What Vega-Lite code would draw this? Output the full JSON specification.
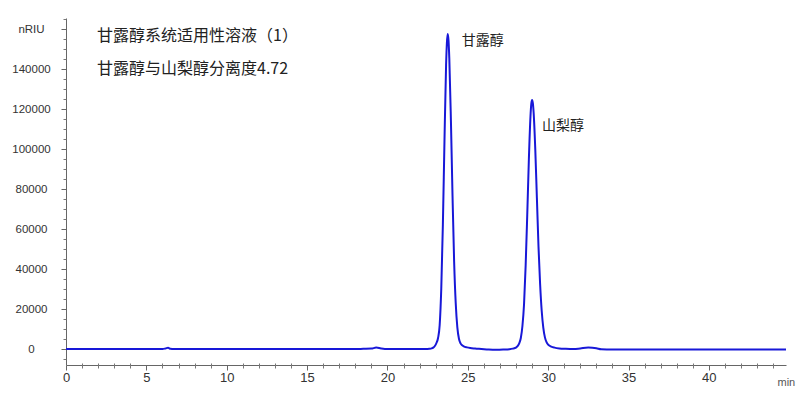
{
  "$schema": "https://vega.github.io/schema/vega-lite/v6.json",
  "width": 720,
  "height": 347,
  "autosize": {"type": "none"},
  "padding": {"left": 66, "top": 18, "right": 14, "bottom": 38},
  "background": "white",
  "config": {"view": {"stroke": null}, "font": "Liberation Sans"},
  "title": {
    "text": ["甘露醇系统适用性溶液（1）", "甘露醇与山梨醇分离度4.72"],
    "anchor": "start",
    "frame": "group",
    "orient": "top",
    "baseline": "top",
    "offset": 0,
    "dx": 31,
    "dy": 59,
    "lineHeight": 33,
    "font": "Noto Sans CJK SC",
    "fontSize": 16,
    "fontWeight": "normal",
    "color": "#222222"
  },
  "datasets": {
    "trace": [
      {"time": 0, "signal": 0}, {"time": 2, "signal": 0}, {"time": 4, "signal": 0},
      {"time": 6.0, "signal": 0}, {"time": 6.2, "signal": 300}, {"time": 6.35, "signal": 600},
      {"time": 6.5, "signal": 100}, {"time": 6.7, "signal": 0}, {"time": 10, "signal": 0},
      {"time": 15, "signal": 0}, {"time": 18.0, "signal": 0}, {"time": 18.5, "signal": 100},
      {"time": 19.0, "signal": 200}, {"time": 19.3, "signal": 700}, {"time": 19.6, "signal": 300},
      {"time": 20.0, "signal": 0}, {"time": 21.0, "signal": 0}, {"time": 22.0, "signal": 0},
      {"time": 22.4, "signal": 0}, {"time": 22.6, "signal": 100}, {"time": 22.75, "signal": 300},
      {"time": 22.85, "signal": 700}, {"time": 22.95, "signal": 1500}, {"time": 23.05, "signal": 3000},
      {"time": 23.15, "signal": 5500}, {"time": 23.25, "signal": 11900}, {"time": 23.35, "signal": 30100},
      {"time": 23.45, "signal": 62200}, {"time": 23.55, "signal": 104200}, {"time": 23.65, "signal": 142000},
      {"time": 23.7, "signal": 153000}, {"time": 23.75, "signal": 157500}, {"time": 23.8, "signal": 154400},
      {"time": 23.85, "signal": 145400}, {"time": 23.95, "signal": 114400}, {"time": 24.05, "signal": 76700},
      {"time": 24.15, "signal": 43800}, {"time": 24.25, "signal": 22800}, {"time": 24.35, "signal": 10800},
      {"time": 24.45, "signal": 5100}, {"time": 24.55, "signal": 2800}, {"time": 24.65, "signal": 1850},
      {"time": 24.75, "signal": 1300}, {"time": 24.95, "signal": 800}, {"time": 25.15, "signal": 500},
      {"time": 25.45, "signal": 250}, {"time": 25.85, "signal": 0}, {"time": 26.3, "signal": -300},
      {"time": 26.8, "signal": -400}, {"time": 27.2, "signal": -300}, {"time": 27.6, "signal": -100},
      {"time": 27.8, "signal": 200}, {"time": 28.0, "signal": 700}, {"time": 28.1, "signal": 1400},
      {"time": 28.2, "signal": 2800}, {"time": 28.3, "signal": 5500}, {"time": 28.4, "signal": 11500},
      {"time": 28.5, "signal": 22400}, {"time": 28.6, "signal": 41600}, {"time": 28.7, "signal": 67100},
      {"time": 28.8, "signal": 94600}, {"time": 28.9, "signal": 116200}, {"time": 28.95, "signal": 122400},
      {"time": 29.0, "signal": 124500}, {"time": 29.05, "signal": 122800}, {"time": 29.1, "signal": 117800},
      {"time": 29.2, "signal": 99700}, {"time": 29.3, "signal": 75500}, {"time": 29.4, "signal": 51200},
      {"time": 29.5, "signal": 32500}, {"time": 29.6, "signal": 19000}, {"time": 29.7, "signal": 10600},
      {"time": 29.8, "signal": 5800}, {"time": 29.9, "signal": 3400}, {"time": 30.0, "signal": 2200},
      {"time": 30.2, "signal": 1200}, {"time": 30.4, "signal": 700}, {"time": 30.7, "signal": 300},
      {"time": 31.1, "signal": 100}, {"time": 31.6, "signal": 0}, {"time": 32.0, "signal": 300},
      {"time": 32.5, "signal": 700}, {"time": 33.0, "signal": 400}, {"time": 33.3, "signal": -100},
      {"time": 34.0, "signal": -200}, {"time": 38.0, "signal": -200}, {"time": 44.8, "signal": -200}
    ],
    "peaks": [
      {"name": "甘露醇", "time": 23.75, "height": 157500},
      {"name": "山梨醇", "time": 29.0, "height": 124500}
    ]
  },
  "layer": [
    {
      "data": {"name": "trace"},
      "mark": {"type": "line", "color": "#1818d8", "strokeWidth": 2, "interpolate": "monotone", "clip": true},
      "encoding": {
        "x": {
          "field": "time", "type": "quantitative",
          "scale": {"domain": [0, 44.8], "nice": false, "zero": false},
          "axis": {
            "orient": "bottom",
            "values": [0, 5, 10, 15, 20, 25, 30, 35, 40],
            "title": "min",
            "titleAnchor": "start",
            "titleAlign": "left",
            "titleBaseline": "middle",
            "titleX": 711,
            "titleY": 17,
            "titleFont": "Liberation Sans",
            "titleFontSize": 11,
            "titleFontWeight": "normal",
            "titleColor": "#555555",
            "grid": false,
            "domainColor": "#666666",
            "domainWidth": 1,
            "tickColor": "#666666",
            "tickSize": 5,
            "labelPadding": 1,
            "labelFontSize": 13,
            "labelColor": "#333333",
            "labelBaseline": "top",
            "labelFlush": false
          }
        },
        "y": {
          "field": "signal", "type": "quantitative",
          "scale": {"domain": [-8000, 165500], "nice": false, "zero": false},
          "axis": {
            "orient": "left",
            "values": [0, 20000, 40000, 60000, 80000, 100000, 120000, 140000, 160000],
            "format": "d",
            "labelExpr": "datum.value == 160000 ? 'nRIU' : datum.label",
            "title": null,
            "grid": false,
            "domainColor": "#666666",
            "tickColor": "#666666",
            "tickSize": 5,
            "labelPadding": 30,
            "labelAlign": "center",
            "labelFontSize": 11.5,
            "labelColor": "#333333",
            "labelFlush": false
          }
        }
      }
    },
    {
      "data": {"name": "peaks"},
      "transform": [{"filter": "datum.name == '甘露醇'"}],
      "mark": {"type": "text", "align": "left", "baseline": "middle", "dx": 14, "dy": 7, "font": "Noto Sans CJK SC", "fontSize": 14, "color": "#222222"},
      "encoding": {
        "x": {"field": "time", "type": "quantitative",
          "axis": {"orient": "bottom", "values": [1,2,3,4,6,7,8,9,11,12,13,14,16,17,18,19,21,22,23,24,26,27,28,29,31,32,33,34,36,37,38,39,41,42,43,44],
            "labels": false, "title": null, "domain": false, "grid": false, "tickSize": 5, "offset": -2, "tickColor": "#777777"}},
        "y": {"field": "height", "type": "quantitative",
          "axis": {"orient": "left", "values": [-5000,5000,10000,15000,25000,30000,35000,45000,50000,55000,65000,70000,75000,85000,90000,95000,105000,110000,115000,125000,130000,135000,145000,150000,155000,165000],
            "labels": false, "title": null, "domain": false, "grid": false, "tickSize": 3, "tickColor": "#777777"}},
        "text": {"field": "name"}
      }
    },
    {
      "data": {"name": "peaks"},
      "transform": [{"filter": "datum.name == '山梨醇'"}],
      "mark": {"type": "text", "align": "left", "baseline": "middle", "dx": 10, "dy": 26, "font": "Noto Sans CJK SC", "fontSize": 14, "color": "#222222"},
      "encoding": {
        "x": {"field": "time", "type": "quantitative", "axis": null},
        "y": {"field": "height", "type": "quantitative", "axis": null},
        "text": {"field": "name"}
      }
    }
  ],
  "resolve": {"axis": {"x": "independent", "y": "independent"}}
}
